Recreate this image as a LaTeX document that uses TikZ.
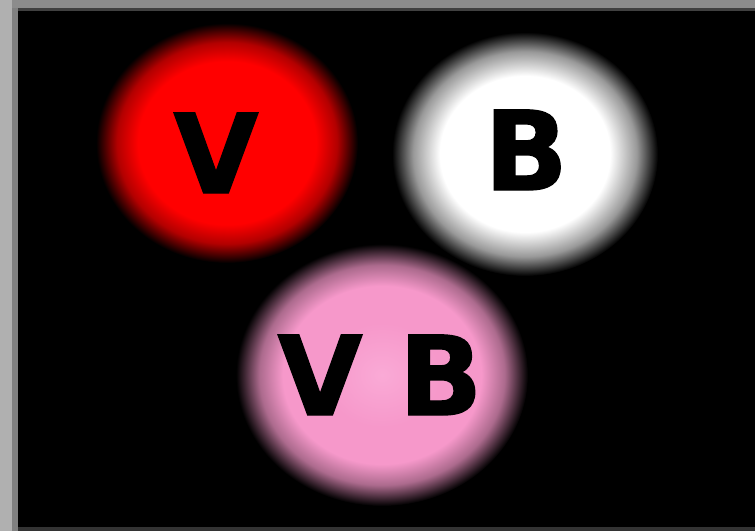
\documentclass[tikz,border=0pt]{standalone}
\usepackage{fontspec}
\setmainfont{Liberation Sans}
\newfontfamily\ballfont[BoldFont={DejaVu Sans Bold}, BoldFeatures={FakeBold=1.2}]{DejaVu Sans}
\usetikzlibrary{shapes.geometric}
\definecolor{ballred}{RGB}{255,0,0}
\definecolor{ballpink}{RGB}{246,152,202}
\definecolor{ballpinkc}{RGB}{250,170,214}
\definecolor{framelight}{RGB}{176,176,176}
\definecolor{framemid}{RGB}{128,128,128}
\definecolor{frametop}{RGB}{140,140,140}
\pgfdeclareradialshading{redball}{\pgfpoint{0bp}{0bp}}{color(0bp)=(ballred); color(17bp)=(ballred); color(21bp)=(ballred!70!black); color(25bp)=(black); color(50bp)=(black)}
\pgfdeclareradialshading{whiteball}{\pgfpoint{0bp}{0bp}}{color(0bp)=(white); color(16bp)=(white); color(21bp)=(white!60!black); color(25bp)=(black); color(50bp)=(black)}
\pgfdeclareradialshading{pinkball}{\pgfpoint{0bp}{0bp}}{color(0bp)=(ballpinkc); color(10bp)=(ballpink); color(17bp)=(ballpink); color(21bp)=(ballpink!70!black); color(25bp)=(black); color(50bp)=(black)}
\tikzset{
  ball/.style={ellipse, inner sep=0pt, draw=none},
  letter/.style={anchor=base, inner sep=0pt, text=black, font=\fontsize{110}{110}\ballfont\bfseries}
}
\begin{document}
\begin{tikzpicture}[x=1pt,y=-1pt]
\useasboundingbox (0,0) rectangle (755,531);
% frame
\fill[frametop] (0,0) rectangle (755,531);
\fill[framelight] (0,0) rectangle (12,531);
\fill[framemid] (12,8) rectangle (18,531);
\fill[black!75] (18,8) rectangle (755,11);
\fill[black] (18,11) rectangle (755,527);
\fill[black!80] (18,527) rectangle (755,531);
% balls
\node[ball, shading=redball, minimum width=262pt, minimum height=240pt] (red) at (227,143) {};
\node[ball, shading=whiteball, minimum width=266pt, minimum height=244pt] (white) at (525,154) {};
\node[ball, shading=pinkball, minimum width=292pt, minimum height=262pt] (pink) at (382,375) {};
% letters
\node[letter] (tv) at (216,193) {V};
\node[letter] (tb) at (526,190) {B};
\node[letter] (tvb) at (380,415) {V\kern 36pt B};
\end{tikzpicture}
\end{document}
